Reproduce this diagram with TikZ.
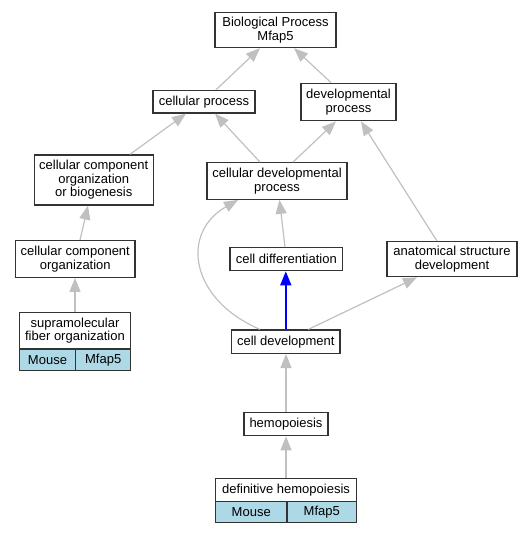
\documentclass[tikz,border=0pt]{standalone}
\usepackage{fontspec}
\setmainfont{Liberation Sans}
\usetikzlibrary{arrows.meta}
\definecolor{edgegray}{RGB}{192,192,192}
\definecolor{cellblue}{RGB}{173,216,230}
\begin{document}
\begin{tikzpicture}[x=1pt,y=-1pt,
  gobox/.style={draw=black!80, line width=1.3pt, fill=white, rectangle, inner sep=0pt,
    align=center, font=\fontsize{13}{13.5}\selectfont, text=black},
  cellbox/.style={gobox, fill=cellblue},
  edge/.style={draw=edgegray, line width=1.2pt, -{Triangle[length=14pt,width=11pt]}},
  isaedge/.style={draw=blue, line width=1.6pt, -{Triangle[length=14pt,width=11pt]}}]
\useasboundingbox (0,0) rectangle (532,533);
% nodes
\node[gobox, minimum width=121pt, minimum height=35pt] (bio) at (275.5,30) {Biological Process\\Mfap5};
\node[gobox, minimum width=102pt, minimum height=22.5pt] (cp) at (204,101.7) {cellular process};
\node[gobox, minimum width=95pt, minimum height=37.5pt] (dev) at (348.5,102) {developmental\\process};
\node[gobox, minimum width=119pt, minimum height=50pt] (ccob) at (93.7,180) {cellular component\\organization\\or biogenesis};
\node[gobox, minimum width=140pt, minimum height=36.5pt] (cdp) at (277,181) {cellular developmental\\process};
\node[gobox, minimum width=119.5pt, minimum height=36.5pt] (ccorg) at (75.3,259) {cellular component\\organization};
\node[gobox, minimum width=112.7pt, minimum height=23pt] (cdiff) at (286.3,259.2) {cell differentiation};
\node[gobox, minimum width=130pt, minimum height=35pt] (asd) at (452,259.2) {anatomical structure\\development};
\node[gobox, minimum width=111.4pt, minimum height=36.3pt] (supra) at (75,330.85) {supramolecular\\fiber organization};
\node[cellbox, minimum width=56.4pt, minimum height=21.7pt] (supram) at (47.5,359.85) {Mouse};
\node[cellbox, minimum width=55pt, minimum height=21.7pt] (supraf) at (103.2,359.85) {Mfap5};
\node[gobox, minimum width=108.3pt, minimum height=23.3pt] (cdev) at (285.8,341.7) {cell development};
\node[gobox, minimum width=84pt, minimum height=23pt] (hemo) at (286,424.2) {hemopoiesis};
\node[gobox, minimum width=141pt, minimum height=23.4pt] (deft) at (286,490) {definitive hemopoiesis};
\node[cellbox, minimum width=71.5pt, minimum height=21pt] (defm) at (251.25,512.2) {Mouse};
\node[cellbox, minimum width=69.5pt, minimum height=21pt] (deff) at (321.75,512.2) {Mfap5};
% edges
\draw[edge] ([xshift=12pt]cp.north) -- ([xshift=-15.5pt]bio.south);
\draw[edge] ([xshift=-17.5pt]dev.north) -- ([xshift=18.5pt]bio.south);
\draw[edge] ([xshift=36.3pt]ccob.north) -- ([xshift=-18pt]cp.south);
\draw[edge] ([xshift=-17pt]cdp.north) -- ([xshift=11pt]cp.south);
\draw[edge] ([xshift=16pt]cdp.north) -- ([xshift=-12.5pt]dev.south);
\draw[edge] ([xshift=-15pt]asd.north) -- ([xshift=12.5pt]dev.south);
\draw[edge] ([xshift=4.7pt]ccorg.north) -- ([xshift=-5.7pt]ccob.south);
\draw[edge] (supra.north) -- (supra.north |- ccorg.south);
\draw[edge] ([xshift=-1.3pt]cdiff.north) -- ([xshift=2.5pt]cdp.south);
\draw[edge] ([xshift=-25.8pt]cdev.north) .. controls +(-70,-30) and +(-58,33) .. ([xshift=-39pt]cdp.south);
\draw[isaedge] (cdev.north) -- (cdev.north |- cdiff.south);
\draw[edge] ([xshift=22.5pt]cdev.north) -- ([xshift=-35pt]asd.south);
\draw[edge] (hemo.north) -- (hemo.north |- cdev.south);
\draw[edge] (deft.north) -- (deft.north |- hemo.south);
\end{tikzpicture}
\end{document}
